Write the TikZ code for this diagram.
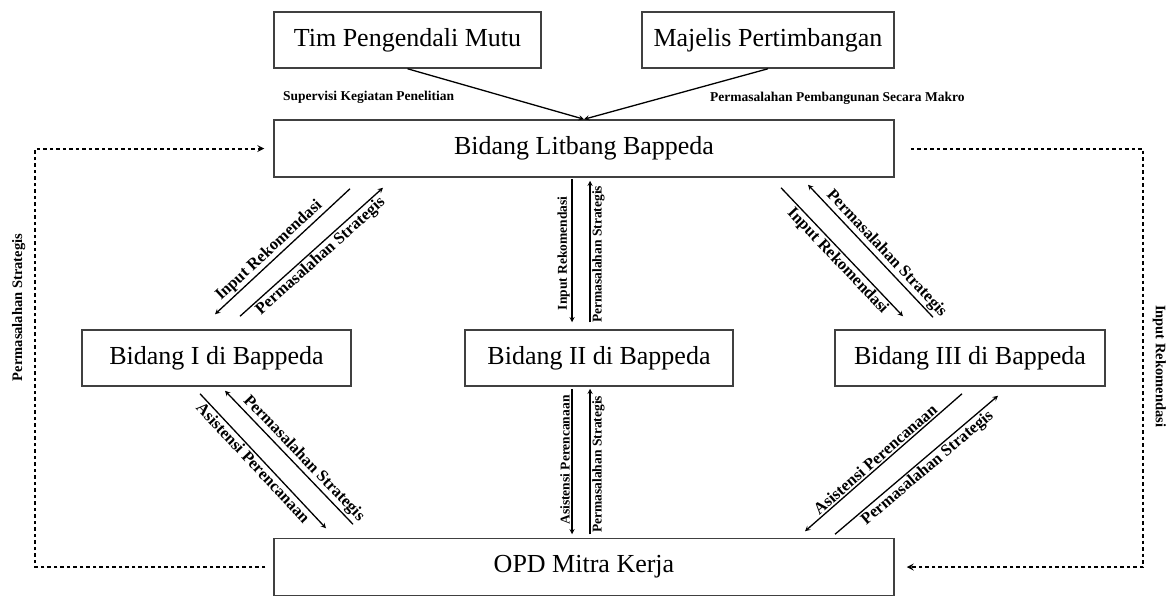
\documentclass[tikz,border=0pt]{standalone}
\usepackage{fontspec}
\setmainfont{Liberation Serif}
\begin{document}
\begin{tikzpicture}[x=1pt,y=-1pt,
    box/.style={draw=black!75,line width=1.5pt,minimum height=56pt,font=\fontsize{26}{30}\selectfont},
    lbl/.style={font=\bfseries\fontsize{16.5}{18}\selectfont,inner sep=1.5pt},
    vlbl/.style={font=\bfseries\fontsize{13.5}{15}\selectfont,inner sep=1.5pt,rotate=90},
    toplbl/.style={font=\bfseries\fontsize{13.5}{15}\selectfont,inner sep=0pt},
    arr/.style={-stealth,line width=1.3pt},
    dsh/.style={line width=2pt,dash pattern=on 3.5pt off 3pt}]
    \useasboundingbox (0,0) rectangle (1167,597);
    % boxes
    \node[box,minimum width=267pt] (tim) at (407.5,40) {Tim Pengendali Mutu};
    \node[box,minimum width=252pt] (maj) at (768,40) {Majelis Pertimbangan};
    \node[box,minimum width=620pt,minimum height=57pt] (lit) at (584,148.5) {Bidang Litbang Bappeda};
    \node[box,minimum width=269pt] (b1) at (216.5,358) {Bidang I di Bappeda};
    \node[box,minimum width=268pt] (b2) at (599,358) {Bidang II di Bappeda};
    \node[box,minimum width=270pt] (b3) at (970,358) {Bidang III di Bappeda};
    \node[box,minimum width=620pt,minimum height=57pt] (opd) at (584,567) {OPD Mitra Kerja};
    % top inputs
    \draw[arr] (tim.south) -- (lit.north);
    \draw[arr] (maj.south) -- (lit.north);
    \node[toplbl,anchor=west] (supv) at (283,97) {Supervisi Kegiatan Penelitian};
    \node[toplbl,anchor=west] (makro) at (710,98) {Permasalahan Pembangunan Secara Makro};
    % litbang - bidang
    \draw[arr] ([shift={(-234,11)}]lit.south) -- node[lbl,sloped,above,pos=.55] {Input Rekomendasi} ([shift={(-1.5,-15)}]b1.north);
    \draw[arr] ([shift={(23.5,-13)}]b1.north) -- node[lbl,sloped,below,pos=.52] {Permasalahan Strategis} ([shift={(-201,10)}]lit.south);
    \draw[arr] ([shift={(-12,1)}]lit.south) -- node[vlbl,anchor=south,pos=.52] {Input Rekomendasi} ([shift={(-27,-7)}]b2.north);
    \draw[arr] ([shift={(-9,-7)}]b2.north) -- node[vlbl,anchor=north,pos=.48] {Permasalahan Strategis} ([shift={(6,3)}]lit.south);
    \draw[arr] ([shift={(-37,-12)}]b3.north) -- node[lbl,sloped,above,pos=.43] {Permasalahan Strategis} ([shift={(224,7)}]lit.south);
    \draw[arr] ([shift={(197,10)}]lit.south) -- node[lbl,sloped,below,pos=.52] {Input Rekomendasi} ([shift={(-67,-13)}]b3.north);
    % bidang - opd
    \draw[arr] ([shift={(-16.5,7)}]b1.south) -- node[lbl,sloped,below,pos=.47] {Asistensi Perencanaan} ([shift={(-258,-9.5)}]opd.north);
    \draw[arr] ([shift={(-231,-13.5)}]opd.north) -- node[lbl,sloped,above,pos=.44] {Permasalahan Strategis} ([shift={(8.5,4)}]b1.south);
    \draw[arr] ([shift={(-27,2)}]b2.south) -- node[vlbl,anchor=south,pos=.49] {Asistensi Perencanaan} ([shift={(-12,-3.5)}]opd.north);
    \draw[arr] ([shift={(6,-3.5)}]opd.north) -- node[vlbl,anchor=north,pos=.48] {Permasalahan Strategis} ([shift={(-9,2)}]b2.south);
    \draw[arr] ([shift={(-8,7)}]b3.south) -- node[lbl,sloped,above,pos=.52] {Asistensi Perencanaan} ([shift={(221,-6.5)}]opd.north);
    \draw[arr] ([shift={(251,-3.5)}]opd.north) -- node[lbl,sloped,below,pos=.53] {Permasalahan Strategis} ([shift={(28,9)}]b3.south);
    % feedback loops
    \draw[dsh,-stealth,shorten <=8pt,shorten >=9pt] (opd.west) -- ++(-238,0) |- node[vlbl,font=\bfseries\fontsize{14.5}{16}\selectfont,anchor=south,inner sep=9pt,pos=.31] {Permasalahan Strategis} (lit.west);
    \draw[dsh,-stealth,shorten <=16pt,shorten >=12pt] (lit.east) -- ++(248,0) |- node[vlbl,font=\bfseries\fontsize{14.5}{16}\selectfont,rotate=180,anchor=south,inner sep=9pt,pos=.26] {Input Rekomendasi} (opd.east);
\end{tikzpicture}
\end{document}
